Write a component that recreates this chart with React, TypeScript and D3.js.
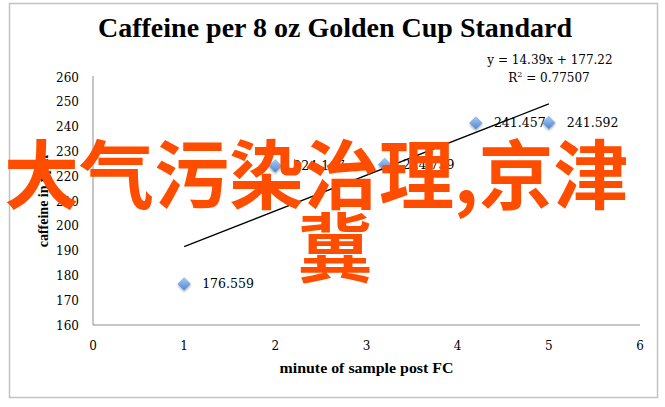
import React from "react";
import * as d3 from "d3";

const xValues = [1, 2, 3.2, 4.2, 5];
const yValues = [176.559, 224.147, 224.739, 241.457, 241.592];
const pointLabels = ["176.559", "224.147", "224.739", "241.457", "241.592"];
const xTicks = [0, 1, 2, 3, 4, 5, 6];
const yTicks = [160, 170, 180, 190, 200, 210, 220, 230, 240, 250, 260];
const trendSlope = [14.39];
const trendIntercept = [177.22];
const trendRange = [1, 5];
const equationText = ["y = 14.39x + 177.22", "0.77507"];
const titleText = "Caffeine per 8 oz Golden Cup Standard";
const xTitle = "minute of sample post FC";
const yTitle = "caffeine in ppm";
const overlayLines = ["大气污染治理,京津", "冀"];

const W = 665;
const H = 407;
const serif = "'DejaVu Serif', serif";
const bold = "'Liberation Serif', serif";

export default function App() {
  const x = d3.scaleLinear().domain([0, 6]).range([93, 640]);
  const y = d3.scaleLinear().domain([160, 260]).range([325, 77]);
  const data = xValues.map((v, i) => ({ x: v, y: yValues[i], label: pointLabels[i] }));
  const trend = d3
    .line<number>()
    .x((d) => x(d))
    .y((d) => y(trendSlope[0] * d + trendIntercept[0]));
  const diamond = d3.symbol().type(d3.symbolDiamond2).size(100)();

  return (
    <svg
      width={W}
      height={H}
      style={{ position: "absolute", left: 0, top: 0, background: "#fff" }}
    >
      <defs>
        <linearGradient id="mk" x1="0" y1="0" x2="0" y2="1">
          <stop offset="0%" stopColor="#a9cbf3" />
          <stop offset="100%" stopColor="#4f86cf" />
        </linearGradient>
        <filter id="sh" x="-50%" y="-50%" width="200%" height="200%">
          <feDropShadow dx="0" dy="1.5" stdDeviation="1" floodColor="#000" floodOpacity="0.35" />
        </filter>
      </defs>
      <rect x={0} y={0} width={W} height={H} fill="#fff" />
      <rect x={9.5} y={3.5} width={648} height={394} fill="#fff" stroke="#c2c2c2" strokeWidth={1.5} />

      <text
        x={335}
        y={37}
        textAnchor="middle"
        fontFamily={bold}
        fontWeight="bold"
        fontSize={27}
        textLength={474}
        lengthAdjust="spacingAndGlyphs"
        fill="#000"
      >
        {titleText}
      </text>

      {/* axes */}
      <line x1={x(0)} x2={x(0)} y1={y(260) - 1} y2={y(160)} stroke="#8c8c8c" strokeWidth={1} />
      <line x1={x(0)} x2={x(6)} y1={y(160)} y2={y(160)} stroke="#8c8c8c" strokeWidth={1} />

      {yTicks.map((t) => (
        <text key={t} x={79} y={y(t) + 4.5} textAnchor="end" fontFamily={serif} fontSize={12} fill="#000">
          {t}
        </text>
      ))}
      {xTicks.map((t) => (
        <text key={t} x={x(t)} y={350} textAnchor="middle" fontFamily={serif} fontSize={12} fill="#000">
          {t}
        </text>
      ))}

      <text
        x={x(3)}
        y={373}
        textAnchor="middle"
        fontFamily={bold}
        fontWeight="bold"
        fontSize={14}
        textLength={174}
        lengthAdjust="spacingAndGlyphs"
      >
        {xTitle}
      </text>
      <text
        transform={`translate(48, ${(y(160) + y(260)) / 2}) rotate(-90)`}
        textAnchor="middle"
        fontFamily={bold}
        fontWeight="bold"
        fontSize={14}
      >
        {yTitle}
      </text>

      <path d={trend(trendRange) || ""} fill="none" stroke="#000" strokeWidth={1.3} />

      {data.map((d, i) => (
        <g key={i}>
          <path
            d={diamond || ""}
            transform={`translate(${x(d.x)}, ${y(d.y)})`}
            fill="url(#mk)"
            stroke="#5a8fd6"
            strokeWidth={0.5}
            filter="url(#sh)"
          />
          <text x={x(d.x) + 18} y={y(d.y) + 4.5} fontFamily={serif} fontSize={12.5} fill="#000">
            {d.label}
          </text>
        </g>
      ))}

      <text x={550} y={64} textAnchor="middle" fontFamily={serif} fontSize={12}>
        {equationText[0]}
      </text>
      <text x={549} y={82} textAnchor="middle" fontFamily={serif} fontSize={12}>
        R<tspan dy={-5} fontSize={8}>2</tspan>
        <tspan dy={5}> = {equationText[1]}</tspan>
      </text>

      <g fontFamily="'Noto Sans CJK SC', sans-serif" fontWeight="bold" fontSize={75} fill="#ff4d00">
        <text x={4} y={203}>{overlayLines[0]}</text>
        <text x={335} y={276} textAnchor="middle">{overlayLines[1]}</text>
      </g>
    </svg>
  );
}
